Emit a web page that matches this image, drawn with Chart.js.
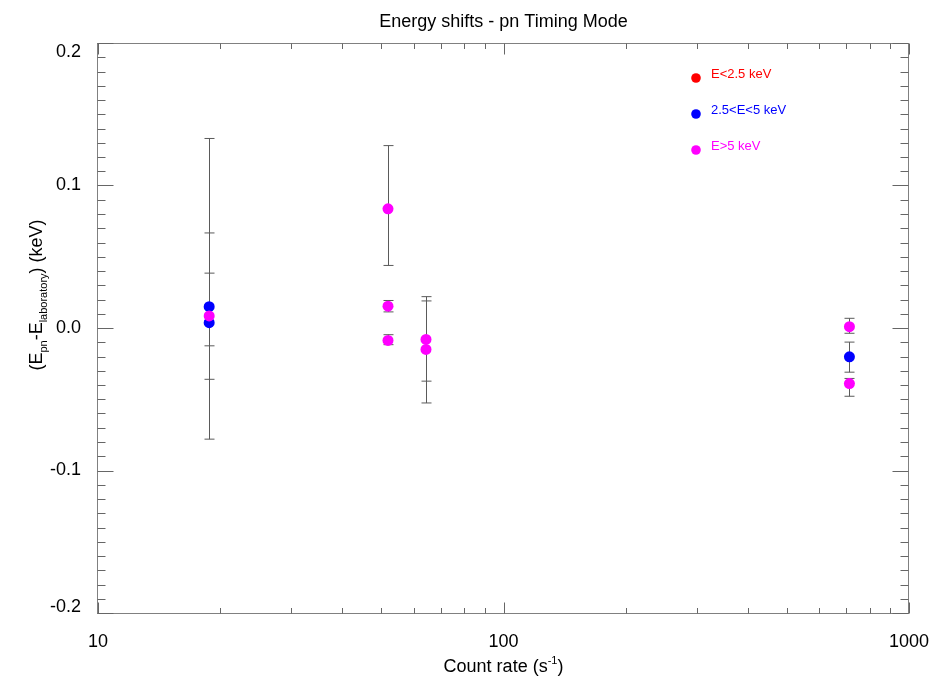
<!DOCTYPE html>
<html>
<head>
<meta charset="utf-8">
<script src="https://cdn.jsdelivr.net/npm/chart.js@4.4.1/dist/chart.umd.min.js"></script>
<style>
  html, body { margin: 0; padding: 0; background: #fff; }
  #wrap { width: 951px; height: 682px; }
</style>
</head>
<body>
<div id="wrap"><canvas id="grafico" width="951" height="682"></canvas></div>
<script>
// Dados (taxa de contagem em s^-1, desvio de energia em keV)
const serieNomes = ["E<2.5 keV", "2.5<E<5 keV", "E>5 keV"];
const serieCores = ["#ff0000", "#0000ff", "#ff00ff"];

const taxaVermelho = [];
const desvioVermelho = [];
const minVermelho = [];
const maxVermelho = [];

const taxaAzul = [18.8, 18.8, 713];
const desvioAzul = [0.0150, 0.0037, -0.0202];
const minAzul = [-0.036, -0.0125, -0.031];
const maxAzul = [0.0667, 0.0385, -0.0099];

const taxaMagenta = [18.8, 51.9, 51.9, 51.9, 64.4, 64.4, 713, 713];
const desvioMagenta = [0.0085, 0.0836, 0.0153, -0.0087, -0.0080, -0.0150, 0.0009, -0.0390];
const minMagenta = [-0.078, 0.0439, 0.0113, -0.0117, -0.0373, -0.0526, -0.0037, -0.0479];
const maxMagenta = [0.133, 0.128, 0.0193, -0.0047, 0.019, 0.022, 0.0068, -0.0354];

const ticksX = [10, 100, 1000];
const ticksY = [-0.2, -0.1, 0.0, 0.1, 0.2];

const fonte = "'Liberation Sans', Arial, Helvetica, sans-serif";

function montarSerie(i, taxas, desvios, mins, maxs, ordem) {
  return {
    label: serieNomes[i],
    data: taxas.map((t, j) => ({ x: t, y: desvios[j] })),
    errMin: mins,
    errMax: maxs,
    backgroundColor: serieCores[i],
    borderColor: serieCores[i],
    pointRadius: 5.5,
    pointHoverRadius: 5.5,
    borderWidth: 0,
    order: ordem,
  };
}

// Barras de erro, moldura, marcas dos eixos e textos
const decoracao = {
  id: "decoracao",
  beforeDatasetsDraw(chart) {
    const ctx = chart.ctx;
    const sx = chart.scales.x;
    const sy = chart.scales.y;
    const a = chart.chartArea;
    ctx.save();

    // barras de erro
    ctx.strokeStyle = "#5a5a5a";
    ctx.lineWidth = 1;
    chart.data.datasets.forEach((ds) => {
      ds.data.forEach((p, j) => {
        const x = Math.round(sx.getPixelForValue(p.x)) + 0.5;
        const y1 = sy.getPixelForValue(ds.errMin[j]);
        const y2 = sy.getPixelForValue(ds.errMax[j]);
        ctx.beginPath();
        ctx.moveTo(x, y1);
        ctx.lineTo(x, y2);
        ctx.moveTo(x - 5, y1);
        ctx.lineTo(x + 5, y1);
        ctx.moveTo(x - 5, y2);
        ctx.lineTo(x + 5, y2);
        ctx.stroke();
      });
    });

    // moldura
    const L = Math.round(a.left) - 0.5, R = Math.round(a.right) - 0.5;
    const T = Math.round(a.top) + 0.5, B = Math.round(a.bottom) + 0.5;
    ctx.strokeStyle = "#808080";
    ctx.strokeRect(L, T, R - L, B - T);

    // marcas do eixo x (log)
    ctx.strokeStyle = "#666";
    ctx.beginPath();
    for (let d = 10; d <= 1000; d *= 10) {
      for (let k = 1; k <= 9; k++) {
        const v = d * k;
        if (v > 1000) break;
        const x = Math.round(sx.getPixelForValue(v)) + 0.5;
        const len = k === 1 ? 11 : 5.5;
        ctx.moveTo(x, B);
        ctx.lineTo(x, B - len);
        ctx.moveTo(x, T);
        ctx.lineTo(x, T + len);
      }
    }
    // marcas do eixo y
    for (let n = -20; n <= 20; n++) {
      const y = Math.round(sy.getPixelForValue(n / 100)) + 0.5;
      const len = n % 10 === 0 ? 16 : 8;
      ctx.moveTo(L, y);
      ctx.lineTo(L + len, y);
      ctx.moveTo(R, y);
      ctx.lineTo(R - len, y);
    }
    ctx.stroke();
    ctx.restore();
  },
  afterDraw(chart) {
    const ctx = chart.ctx;
    const a = chart.chartArea;
    const sy = chart.scales.y;
    const cx = (a.left + a.right) / 2;
    ctx.save();
    ctx.fillStyle = "#000";

    // rótulos do eixo y (os extremos ficam dentro da moldura)
    ctx.font = "18px " + fonte;
    ctx.textAlign = "right";
    ctx.textBaseline = "middle";
    sy.ticks.forEach((t) => {
      let y = sy.getPixelForValue(t.value);
      y = Math.min(Math.max(y, a.top + 9), a.bottom - 6);
      ctx.fillText(Number(t.value).toFixed(1), a.left - 17, y);
    });

    // título
    ctx.textAlign = "center";
    ctx.textBaseline = "alphabetic";
    ctx.fillText("Energy shifts - pn Timing Mode", cx, 27);

    // rótulo x com expoente
    const partesX = [
      { t: "Count rate (s", f: 18, dy: 0 },
      { t: "-1", f: 11, dy: -8 },
      { t: ")", f: 18, dy: 0 },
    ];
    desenharPartes(ctx, partesX, cx, 672);

    // rótulo y com índices
    ctx.translate(42, 295);
    ctx.rotate(-Math.PI / 2);
    const partesY = [
      { t: "(E", f: 18, dy: 0 },
      { t: "pn", f: 11, dy: 5 },
      { t: "-E", f: 18, dy: 0 },
      { t: "laboratory", f: 11, dy: 5 },
      { t: ") (keV)", f: 18, dy: 0 },
    ];
    desenharPartes(ctx, partesY, 0, 0);
    ctx.restore();

    // legenda
    ctx.save();
    ctx.textAlign = "left";
    ctx.textBaseline = "middle";
    ctx.font = "13px " + fonte;
    serieNomes.forEach((nome, i) => {
      const y = 78 + i * 36;
      ctx.fillStyle = serieCores[i];
      ctx.beginPath();
      ctx.arc(696, y, 4.8, 0, Math.PI * 2);
      ctx.fill();
      ctx.fillText(nome, 711, y - 4);
    });
    ctx.restore();
  },
};

function desenharPartes(ctx, partes, cx, base) {
  ctx.textAlign = "left";
  ctx.textBaseline = "alphabetic";
  let total = 0;
  partes.forEach((p) => {
    ctx.font = p.f + "px " + fonte;
    p.w = ctx.measureText(p.t).width;
    total += p.w;
  });
  let x = cx - total / 2;
  partes.forEach((p) => {
    ctx.font = p.f + "px " + fonte;
    ctx.fillText(p.t, x, base + p.dy);
    x += p.w;
  });
}

const ctx = document.getElementById("grafico").getContext("2d");
new Chart(ctx, {
  type: "scatter",
  data: {
    datasets: [
      montarSerie(0, taxaVermelho, desvioVermelho, minVermelho, maxVermelho, 3),
      montarSerie(1, taxaAzul, desvioAzul, minAzul, maxAzul, 2),
      montarSerie(2, taxaMagenta, desvioMagenta, minMagenta, maxMagenta, 1),
    ],
  },
  options: {
    responsive: false,
    animation: false,
    devicePixelRatio: 1,
    layout: { padding: { top: 43, right: 42, left: 0, bottom: 0 } },
    plugins: {
      legend: { display: false },
      tooltip: { enabled: false },
      title: { display: false },
    },
    scales: {
      x: {
        type: "logarithmic",
        min: 10,
        max: 1000,
        grid: { display: false, drawTicks: false },
        border: { display: false },
        afterBuildTicks: (s) => { s.ticks = ticksX.map((v) => ({ value: v })); },
        afterFit: (s) => { s.height = 69; },
        ticks: {
          autoSkip: false,
          maxRotation: 0,
          padding: 18,
          color: "#000",
          font: { family: fonte, size: 18 },
          callback: (v) => String(v),
        },
      },
      y: {
        min: -0.2,
        max: 0.2,
        grid: { display: false, drawTicks: false },
        border: { display: false },
        afterBuildTicks: (s) => { s.ticks = ticksY.map((v) => ({ value: v })); },
        afterFit: (s) => { s.width = 98; },
        ticks: { display: false },
      },
    },
  },
  plugins: [decoracao],
});
</script>
</body>
</html>
